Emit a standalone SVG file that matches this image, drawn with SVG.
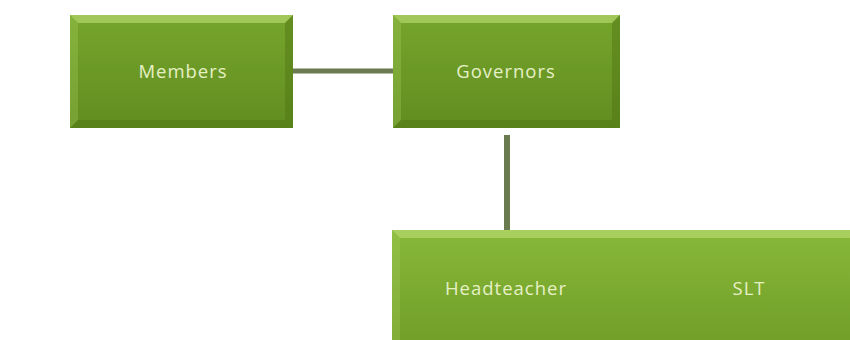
<svg xmlns="http://www.w3.org/2000/svg" width="850" height="340" viewBox="0 0 850 340">
<defs>
<linearGradient id="fill" x1="0" y1="0" x2="0" y2="1">
<stop offset="0" stop-color="#76a52c"/>
<stop offset="1" stop-color="#618d20"/>
</linearGradient>
<linearGradient id="fill2" x1="0" y1="0" x2="0" y2="1">
<stop offset="0" stop-color="#88b83a"/>
<stop offset="1" stop-color="#719f28"/>
</linearGradient>
<style>
.lbl{font-family:"Open Sans","DejaVu Sans",sans-serif;font-size:18.5px;letter-spacing:1px;fill:#e6f0c6;text-anchor:middle;dominant-baseline:central}
.edge{stroke:#6b7b50;fill:none}
.hi{fill:#c4e47e;opacity:0.55}
.hs{fill:#a9d060;opacity:0.3}
.lo{fill:#4f7414;opacity:0.45}
</style>
</defs>
<rect width="850" height="340" fill="#ffffff"/>
<g id="connectors">
<line class="edge" x1="293" y1="71" x2="393" y2="71" stroke-width="5"/>
<line class="edge" x1="507" y1="135" x2="507" y2="231" stroke-width="6"/>
</g>
<g id="members">
<rect x="70" y="15" width="223" height="113" fill="url(#fill)"/>
<polygon class="hi" points="70,15 293,15 285,23 78,23"/>
<polygon class="hs" points="70,15 78,23 78,120 70,128"/>
<polygon class="lo" points="70,128 293,128 285,120 78,120"/>
<polygon class="lo" points="293,15 293,128 285,120 285,23" opacity="0.25"/>
<text class="lbl" x="183" y="70">Members</text>
</g>
<g id="governors">
<rect x="393" y="15" width="227" height="113" fill="url(#fill)"/>
<polygon class="hi" points="393,15 620,15 612,23 401,23"/>
<polygon class="hs" points="393,15 401,23 401,120 393,128"/>
<polygon class="lo" points="393,128 620,128 612,120 401,120"/>
<polygon class="lo" points="620,15 620,128 612,120 612,23" opacity="0.25"/>
<text class="lbl" x="506" y="70">Governors</text>
</g>
<g id="headteacher-slt">
<rect x="392" y="230" width="458" height="110" fill="url(#fill2)"/>
<polygon class="hi" points="392,230 850,230 850,238 400,238"/>
<polygon class="hs" points="392,230 400,238 400,340 392,340"/>
<text class="lbl" x="506" y="287">Headteacher</text>
<text class="lbl" x="749" y="287">SLT</text>
</g>
</svg>
